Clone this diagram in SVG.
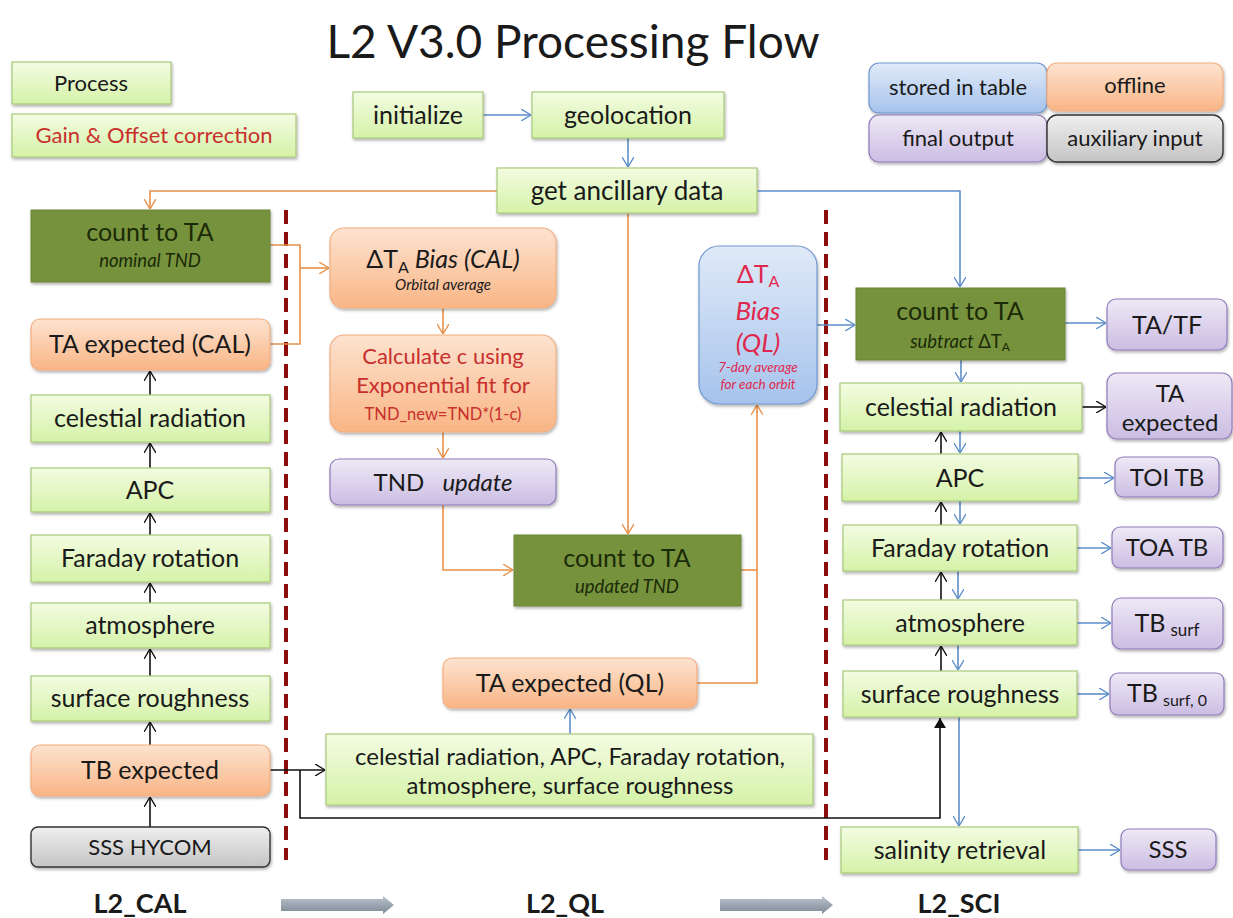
<svg xmlns="http://www.w3.org/2000/svg" width="1233" height="918" viewBox="0 0 1233 918">
<defs>
<linearGradient id="gGreen" x1="0" y1="0" x2="0" y2="1"><stop offset="0" stop-color="#f3fce2"/><stop offset="1" stop-color="#d5f2a8"/></linearGradient>
<linearGradient id="gOrange" x1="0" y1="0" x2="0" y2="1"><stop offset="0" stop-color="#fde3d0"/><stop offset="1" stop-color="#f9b585"/></linearGradient>
<linearGradient id="gPurple" x1="0" y1="0" x2="0" y2="1"><stop offset="0" stop-color="#eee9f6"/><stop offset="1" stop-color="#cbbde3"/></linearGradient>
<linearGradient id="gBlue" x1="0" y1="0" x2="0" y2="1"><stop offset="0" stop-color="#e0eaf8"/><stop offset="1" stop-color="#a6c3ec"/></linearGradient>
<linearGradient id="gGray" x1="0" y1="0" x2="0" y2="1"><stop offset="0" stop-color="#efefef"/><stop offset="1" stop-color="#c4c4c4"/></linearGradient>
<linearGradient id="gArrow" x1="0" y1="0" x2="0" y2="1"><stop offset="0" stop-color="#b9c3cd"/><stop offset="1" stop-color="#7d8996"/></linearGradient>
<filter id="sh" x="-10%" y="-20%" width="120%" height="150%"><feDropShadow dx="1" dy="2" stdDeviation="1.5" flood-color="#000" flood-opacity="0.3"/></filter>
<marker id="mO" viewBox="0 0 10 12" refX="10" refY="6" markerWidth="10" markerHeight="12" markerUnits="userSpaceOnUse" orient="auto"><path d="M0,0 L10,6 L0,12" fill="none" stroke="#e8914a" stroke-width="1.4"/></marker>
<marker id="mB" viewBox="0 0 10 12" refX="10" refY="6" markerWidth="10" markerHeight="12" markerUnits="userSpaceOnUse" orient="auto"><path d="M0,0 L10,6 L0,12" fill="none" stroke="#5d8ec9" stroke-width="1.4"/></marker>
<marker id="mK" viewBox="0 0 10 12" refX="10" refY="6" markerWidth="10" markerHeight="12" markerUnits="userSpaceOnUse" orient="auto"><path d="M0,0 L10,6 L0,12" fill="none" stroke="#111" stroke-width="1.4"/></marker>
<marker id="mKF" viewBox="0 0 10 12" refX="10" refY="6" markerWidth="11" markerHeight="12" markerUnits="userSpaceOnUse" orient="auto"><path d="M0,0 L10,6 L0,12 Z" fill="#111"/></marker>
</defs>
<style>
text{font-family:Lato,"Liberation Sans",sans-serif;fill:#1a1a1a;text-anchor:middle}
.t25{font-size:25px}.t24{font-size:24px}.t22{font-size:22px}
.it{font-style:italic}
.red{fill:#c8302c}
.pink{fill:#e0284e}
.lbl{font-size:27px;font-weight:bold}
.green{fill:url(#gGreen);stroke:#a8c97c;stroke-width:1.2;filter:url(#sh)}
.dgreen{fill:#76923c;stroke:#6b8636;stroke-width:1;filter:url(#sh)}
.orange{fill:url(#gOrange);stroke:#f2ae80;stroke-width:1.2;filter:url(#sh)}
.purple{fill:url(#gPurple);stroke:#8f7bb8;stroke-width:1.2;filter:url(#sh)}
.blue{fill:url(#gBlue);stroke:#6f97cf;stroke-width:1.2;filter:url(#sh)}
.gray{fill:url(#gGray);stroke:#333;stroke-width:1.4;filter:url(#sh)}
.cO{fill:none;stroke:#e8914a;stroke-width:1.6}
.cB{fill:none;stroke:#5d8ec9;stroke-width:1.6}
.cK{fill:none;stroke:#111;stroke-width:1.6}
.dash{stroke:#8b0d0d;stroke-width:4;stroke-dasharray:14 8}
.dk{fill:#1b2a07}
.sub{font-size:18.5px;font-style:italic}
</style>

<text x="573" y="58" style="font-size:46px">L2 V3.0 Processing Flow</text>

<g id="legend">
<g id="leg-process"><rect class="green" x="12" y="62" width="159" height="42"/><text class="t22" x="91" y="91">Process</text></g>
<g id="leg-gain"><rect class="green" x="12" y="114" width="284" height="43"/><text class="t22 red" x="154" y="143">Gain &amp; Offset correction</text></g>
<g id="leg-stored"><rect class="blue" x="869" y="63" width="178" height="50" rx="10"/><text class="t22" x="958" y="95">stored in table</text></g>
<g id="leg-offline"><rect class="orange" x="1047" y="63" width="176" height="48" rx="10"/><text class="t22" x="1135" y="93">offline</text></g>
<g id="leg-final"><rect class="purple" x="869" y="115" width="178" height="47" rx="10"/><text class="t22" x="958" y="146">final output</text></g>
<g id="leg-aux"><rect class="gray" x="1047" y="115" width="176" height="47" rx="10"/><text class="t22" x="1135" y="146">auxiliary input</text></g>
</g>

<g id="dividers">
<line class="dash" x1="286" y1="210" x2="286" y2="860"/>
<line class="dash" x1="826" y1="210" x2="826" y2="860"/>
</g>

<g id="connectors">
<path class="cB" d="M483,115 H531" marker-end="url(#mB)"/>
<path class="cB" d="M628,138 V167" marker-end="url(#mB)"/>
<path class="cB" d="M757,191 H960 V287" marker-end="url(#mB)"/>
<path class="cB" d="M817,325 H855" marker-end="url(#mB)"/>
<path class="cB" d="M1065,323 H1106" marker-end="url(#mB)"/>
<path class="cB" d="M961,360 V382" marker-end="url(#mB)"/>
<path class="cB" d="M960,431 V453" marker-end="url(#mB)"/>
<path class="cB" d="M960,501 V524" marker-end="url(#mB)"/>
<path class="cB" d="M958,571 V599" marker-end="url(#mB)"/>
<path class="cB" d="M958,645 V670" marker-end="url(#mB)"/>
<path class="cB" d="M959,717 V826" marker-end="url(#mB)"/>
<path class="cB" d="M1078,478 H1114" marker-end="url(#mB)"/>
<path class="cB" d="M1077,548 H1111" marker-end="url(#mB)"/>
<path class="cB" d="M1077,623 H1111" marker-end="url(#mB)"/>
<path class="cB" d="M1077,694 H1109" marker-end="url(#mB)"/>
<path class="cB" d="M1078,850 H1120" marker-end="url(#mB)"/>
<path class="cB" d="M570,734 V709" marker-end="url(#mB)"/>
<path class="cK" d="M1082,407 H1106" marker-end="url(#mK)"/>
<path class="cK" d="M941,454 V432" marker-end="url(#mK)"/>
<path class="cK" d="M941,525 V502" marker-end="url(#mK)"/>
<path class="cK" d="M941,600 V572" marker-end="url(#mK)"/>
<path class="cK" d="M941,671 V646" marker-end="url(#mK)"/>
<path class="cK" d="M150,395 V371" marker-end="url(#mK)"/>
<path class="cK" d="M150,468 V443" marker-end="url(#mK)"/>
<path class="cK" d="M150,535 V513" marker-end="url(#mK)"/>
<path class="cK" d="M150,603 V583" marker-end="url(#mK)"/>
<path class="cK" d="M150,676 V649" marker-end="url(#mK)"/>
<path class="cK" d="M150,745 V722" marker-end="url(#mK)"/>
<path class="cK" d="M150,827 V797" marker-end="url(#mK)"/>
<path class="cK" d="M270,770 H325" marker-end="url(#mK)"/>
<path class="cK" d="M300,770 V818 H940 V718" marker-end="url(#mKF)"/>
<path class="cO" d="M497,191 H150 V209" marker-end="url(#mO)"/>
<path class="cO" d="M270,245 H300 V344 H270"/>
<path class="cO" d="M300,268 H329" marker-end="url(#mO)"/>
<path class="cO" d="M443,308 V334" marker-end="url(#mO)"/>
<path class="cO" d="M443,432 V458" marker-end="url(#mO)"/>
<path class="cO" d="M443,505 V570 H513" marker-end="url(#mO)"/>
<path class="cO" d="M628,213 V534" marker-end="url(#mO)"/>
<path class="cO" d="M741,570 H757"/>
<path class="cO" d="M697,683 H757 V405" marker-end="url(#mO)"/>
</g>

<g id="n-initialize"><rect class="green" x="353" y="92" width="130" height="46"/><text class="t25" x="418" y="124">initialize</text></g>
<g id="n-geolocation"><rect class="green" x="532" y="92" width="192" height="46"/><text class="t25" x="628" y="124">geolocation</text></g>
<g id="n-ancillary"><rect class="green" x="497" y="168" width="260" height="45"/><text style="font-size:26px" x="627" y="200">get ancillary data</text></g>

<g id="n-count-nominal"><rect class="dgreen" x="31" y="210" width="239" height="72"/><text class="t25 dk" x="150" y="241">count to TA</text><text class="sub dk" x="150" y="267">nominal TND</text></g>
<g id="n-ta-exp-cal"><rect class="orange" x="31" y="319" width="239" height="51" rx="9"/><text class="t25" x="150" y="353">TA expected (CAL)</text></g>
<g id="n-cal-celestial"><rect class="green" x="31" y="395" width="239" height="47"/><text class="t25" x="150" y="427">celestial radiation</text></g>
<g id="n-cal-apc"><rect class="green" x="31" y="468" width="239" height="44"/><text class="t25" x="150" y="499">APC</text></g>
<g id="n-cal-faraday"><rect class="green" x="31" y="535" width="239" height="47"/><text class="t25" x="150" y="567">Faraday rotation</text></g>
<g id="n-cal-atmos"><rect class="green" x="31" y="603" width="239" height="45"/><text class="t25" x="150" y="634">atmosphere</text></g>
<g id="n-cal-rough"><rect class="green" x="31" y="676" width="239" height="45"/><text class="t25" x="150" y="707">surface roughness</text></g>
<g id="n-tb-expected"><rect class="orange" x="31" y="745" width="239" height="51" rx="9"/><text class="t25" x="150" y="779">TB expected</text></g>
<g id="n-sss-hycom"><rect class="gray" x="31" y="827" width="239" height="40" rx="7"/><text style="font-size:22px" x="150" y="855">SSS HYCOM</text></g>

<g id="n-bias-cal"><rect class="orange" x="330" y="228" width="226" height="80" rx="14"/><text class="t25" x="443" y="268">ΔT<tspan style="font-size:16px" dy="5">A</tspan><tspan class="it" dy="-5"> Bias (CAL)</tspan></text><text class="it" style="font-size:15px" x="443" y="290">Orbital average</text></g>
<g id="n-calc-c"><rect class="orange" x="330" y="335" width="226" height="97" rx="14"/><text class="red" style="font-size:22px" x="443" y="364">Calculate c using</text><text class="red" style="font-size:22px" x="443" y="393">Exponential fit for</text><text class="red" style="font-size:16.5px" x="443" y="420">TND_new=TND*(1-c)</text></g>
<g id="n-tnd-update"><rect class="purple" x="330" y="459" width="226" height="46" rx="9"/><text class="t24" x="443" y="491">TND <tspan class="it" dx="12">update</tspan></text></g>
<g id="n-count-updated"><rect class="dgreen" x="514" y="535" width="227" height="71"/><text class="t25 dk" x="627" y="567">count to TA</text><text class="sub dk" x="627" y="593">updated TND</text></g>
<g id="n-bias-ql"><rect class="blue" x="699" y="246" width="118" height="158" rx="20"/><text class="pink" style="font-size:25px" x="758" y="283">ΔT<tspan style="font-size:16px" dy="4">A</tspan></text><text class="it pink" style="font-size:26px" x="758" y="320">Bias</text><text class="it pink" style="font-size:26px" x="758" y="352">(QL)</text><text class="it pink" style="font-size:13.5px" x="758" y="372">7-day average</text><text class="it pink" style="font-size:13.5px" x="758" y="389">for each orbit</text></g>
<g id="n-ta-exp-ql"><rect class="orange" x="443" y="658" width="254" height="50" rx="9"/><text class="t25" x="570" y="692">TA expected (QL)</text></g>
<g id="n-ql-corrections"><rect class="green" x="326" y="734" width="487" height="71"/><text class="t24" x="570" y="765">celestial radiation, APC, Faraday rotation,</text><text class="t24" x="570" y="794">atmosphere, surface roughness</text></g>

<g id="n-count-sci"><rect class="dgreen" x="856" y="288" width="209" height="72"/><text class="t25 dk" x="960" y="320">count to TA</text><text class="dk" style="font-size:18.5px" x="960" y="348"><tspan class="it">subtract </tspan>ΔT<tspan style="font-size:12px" dy="3">A</tspan></text></g>
<g id="n-tatf"><rect class="purple" x="1107" y="299" width="120" height="51" rx="9"/><text class="t25" x="1167" y="334">TA/TF</text></g>
<g id="n-sci-celestial"><rect class="green" x="840" y="383" width="242" height="48"/><text class="t25" x="961" y="416">celestial radiation</text></g>
<g id="n-ta-expected"><rect class="purple" x="1107" y="373" width="125" height="66" rx="10"/><text class="t24" x="1170" y="402">TA</text><text class="t24" x="1170" y="431">expected</text></g>
<g id="n-sci-apc"><rect class="green" x="842" y="454" width="236" height="47"/><text class="t25" x="960" y="487">APC</text></g>
<g id="n-toi"><rect class="purple" x="1115" y="457" width="104" height="40" rx="8"/><text class="t24" x="1167" y="486">TOI TB</text></g>
<g id="n-sci-faraday"><rect class="green" x="843" y="525" width="234" height="46"/><text class="t25" x="960" y="557">Faraday rotation</text></g>
<g id="n-toa"><rect class="purple" x="1112" y="527" width="111" height="41" rx="8"/><text class="t24" x="1167" y="556">TOA TB</text></g>
<g id="n-sci-atmos"><rect class="green" x="843" y="600" width="234" height="45"/><text class="t25" x="960" y="632">atmosphere</text></g>
<g id="n-tbsurf"><rect class="purple" x="1112" y="598" width="111" height="51" rx="9"/><text class="t25" x="1167" y="632">TB<tspan style="font-size:17px" dx="5" dy="4">surf</tspan></text></g>
<g id="n-sci-rough"><rect class="green" x="843" y="671" width="234" height="46"/><text class="t25" x="960" y="703">surface roughness</text></g>
<g id="n-tbsurf0"><rect class="purple" x="1110" y="673" width="114" height="42" rx="8"/><text class="t25" x="1167" y="702">TB<tspan style="font-size:16px" dx="5" dy="4">surf, 0</tspan></text></g>
<g id="n-salinity"><rect class="green" x="841" y="827" width="237" height="46"/><text class="t25" x="960" y="859">salinity retrieval</text></g>
<g id="n-sss"><rect class="purple" x="1121" y="829" width="95" height="41" rx="8"/><text class="t24" x="1168" y="858">SSS</text></g>

<g id="stage-labels">
<text class="lbl" x="140" y="913">L2_CAL</text>
<text class="lbl" x="565" y="913">L2_QL</text>
<text class="lbl" x="959" y="913">L2_SCI</text>
<polygon fill="url(#gArrow)" points="281,899 383,899 383,896 394,905 383,914 383,911 281,911"/>
<polygon fill="url(#gArrow)" points="720,899 822,899 822,896 833,905 822,914 822,911 720,911"/>
</g>
</svg>
